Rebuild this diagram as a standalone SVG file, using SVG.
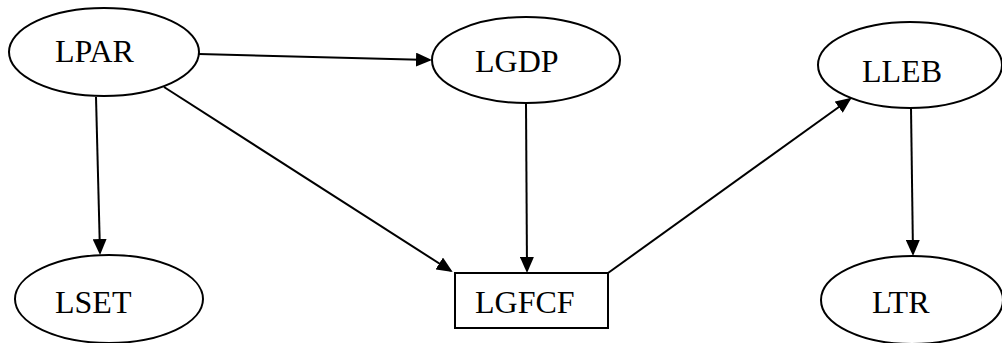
<svg xmlns="http://www.w3.org/2000/svg" width="1002" height="343" viewBox="0 0 1002 343">
  <style>
    .shape { fill: #ffffff; stroke: #000000; stroke-width: 2; }
    .label { font-family: "Liberation Serif", "Times New Roman", serif; font-size: 32px; fill: #000000; }
    .edge { fill: none; stroke: #000000; stroke-width: 2; marker-end: url(#arrow); }
  </style>
  <defs>
    <marker id="arrow" viewBox="0 0 16 14" refX="14" refY="7" markerWidth="16" markerHeight="14" markerUnits="userSpaceOnUse" orient="auto">
      <path d="M0,0 L16,7 L0,14 Z" fill="#000000"/>
    </marker>
  </defs>
  <rect width="1002" height="343" fill="#ffffff"/>

  <g id="connectors">
    <line class="edge" x1="199" y1="54" x2="430" y2="60"/>
    <line class="edge" x1="96" y1="97" x2="100" y2="253"/>
    <line class="edge" x1="164" y1="87" x2="451" y2="271"/>
    <line class="edge" x1="526" y1="103" x2="527" y2="271"/>
    <line class="edge" x1="608" y1="273" x2="850" y2="99"/>
    <line class="edge" x1="911" y1="108" x2="913" y2="254"/>
  </g>

  <g id="LPAR">
    <ellipse class="shape" cx="104" cy="52" rx="95" ry="44"/>
    <text class="label" x="55" y="62">LPAR</text>
  </g>
  <g id="LGDP">
    <ellipse class="shape" cx="526" cy="60" rx="94" ry="43"/>
    <text class="label" x="475" y="72">LGDP</text>
  </g>
  <g id="LLEB">
    <ellipse class="shape" cx="910" cy="65" rx="92" ry="43"/>
    <text class="label" x="862" y="82">LLEB</text>
  </g>
  <g id="LSET">
    <ellipse class="shape" cx="109" cy="299" rx="94" ry="44"/>
    <text class="label" x="55" y="313">LSET</text>
  </g>
  <g id="LGFCF">
    <rect class="shape" x="455" y="273" width="153" height="55"/>
    <text class="label" x="475" y="313">LGFCF</text>
  </g>
  <g id="LTR">
    <ellipse class="shape" cx="912" cy="300" rx="91" ry="44"/>
    <text class="label" x="872" y="313">LTR</text>
  </g>
</svg>
